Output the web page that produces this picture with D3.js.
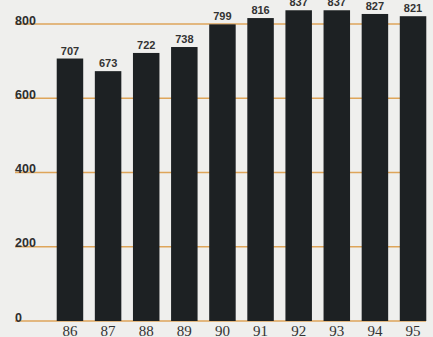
<!DOCTYPE html>
<html>
<head>
<meta charset="utf-8">
<script src="https://cdn.jsdelivr.net/npm/d3@7"></script>
<style>
  html, body { margin: 0; padding: 0; background: #efefed; }
  svg { display: block; }
</style>
</head>
<body>
<svg id="chart" width="433" height="337"></svg>
<script>
// Yearly totals, 1986–1995
const years = ["86", "87", "88", "89", "90", "91", "92", "93", "94", "95"];
const values = [707, 673, 722, 738, 799, 816, 837, 837, 827, 821];
const yTicks = [0, 200, 400, 600, 800];

const W = 433, H = 337;
const svg = d3.select("#chart");

svg.append("rect").attr("width", W).attr("height", H).attr("fill", "#efefed");

const x = d3.scaleBand()
  .domain(years)
  .range([51, 432])
  .paddingInner(0.305)
  .paddingOuter(0.15);

const y = d3.scaleLinear()
  .domain([0, 800])
  .range([321, 24]);

const gridLeft = 15, gridRight = 426;

// Horizontal rules
svg.append("g")
  .selectAll("line")
  .data(yTicks)
  .join("line")
  .attr("x1", gridLeft)
  .attr("x2", gridRight)
  .attr("y1", d => y(d))
  .attr("y2", d => y(d))
  .attr("stroke", "#dea55a")
  .attr("stroke-width", 1.6);

// Y tick labels sit on the rules at the left
svg.append("g")
  .selectAll("text")
  .data(yTicks)
  .join("text")
  .attr("x", gridLeft)
  .attr("y", d => y(d) + 0.5)
  .attr("font-family", "'Liberation Sans', Arial, sans-serif")
  .attr("font-weight", "bold")
  .attr("font-size", 12.5)
  .attr("fill", "#2e2e2e")
  .text(d => d);

// Bars
svg.append("g")
  .selectAll("rect")
  .data(values)
  .join("rect")
  .attr("x", (d, i) => x(years[i]))
  .attr("width", x.bandwidth())
  .attr("y", d => y(d))
  .attr("height", d => y(0) - y(d))
  .attr("fill", "#1d2123");

// Value labels above bars
svg.append("g")
  .selectAll("text")
  .data(values)
  .join("text")
  .attr("x", (d, i) => x(years[i]) + x.bandwidth() / 2)
  .attr("y", d => y(d) - 4)
  .attr("text-anchor", "middle")
  .attr("font-family", "'Liberation Sans', Arial, sans-serif")
  .attr("font-weight", "bold")
  .attr("font-size", 11)
  .attr("fill", "#333")
  .text(d => d);

// Year labels
svg.append("g")
  .selectAll("text")
  .data(years)
  .join("text")
  .attr("x", d => x(d) + x.bandwidth() / 2)
  .attr("y", 336)
  .attr("text-anchor", "middle")
  .attr("font-family", "'Liberation Serif', 'Times New Roman', serif")
  .attr("font-size", 15)
  .attr("fill", "#333")
  .text(d => d);
</script>
</body>
</html>
